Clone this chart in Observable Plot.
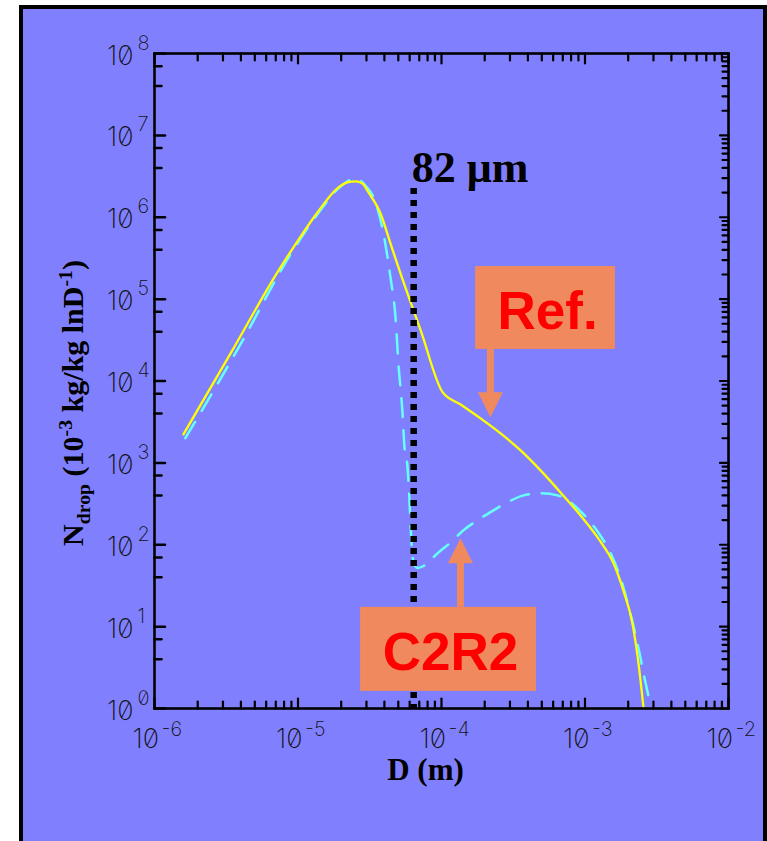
<!DOCTYPE html>
<html><head><meta charset="utf-8">
<script src="https://cdn.jsdelivr.net/npm/d3@7"></script>
<script src="https://cdn.jsdelivr.net/npm/@observablehq/plot@0.6"></script>
<style>
html,body{margin:0;padding:0;background:#fff;overflow:hidden;}
#wrap{position:relative;width:767px;height:841px;overflow:hidden;background:#fff;}
#panel{position:absolute;left:19px;top:5px;width:748px;height:900px;background:#8080FF;border:4px solid #000;box-sizing:border-box;}
#chart{position:absolute;left:0;top:0;}
#chart svg{background:transparent !important;}
svg text{font-feature-settings:"zero" 1;}
#ytitle{position:absolute;left:73px;top:403px;transform:translate(-50%,-50%) rotate(-90deg);white-space:nowrap;font:bold 30px "Liberation Serif","Times New Roman",serif;color:#000;line-height:1;}
#ytitle sub,#ytitle sup{font-size:0.66em;line-height:0;}
</style></head>
<body>
<div id="wrap">
  <div id="panel"></div>
  <div id="chart"></div>
  <div id="ytitle">N<sub>drop</sub> (10<sup>-3</sup> kg/kg lnD<sup>-1</sup>)</div>
</div>
<script>
// ---- data ----
const refD  = [1.59e-6, 3.39e-6, 7.55e-6, 9.3e-6, 1.37e-5, 1.88e-5, 2.21e-5, 2.52e-5, 2.81e-5, 3.10e-5, 3.76e-5, 4.41e-5, 5.18e-5, 7.2e-5, 1.02e-4, 1.355e-4, 1.87e-4, 2.58e-4, 3.56e-4, 4.90e-4, 6.75e-4, 9.31e-4, 1.28e-3, 1.58e-3, 1.85e-3, 2.14e-3, 2.36e-3, 2.56e-3];
const refN  = [2.23e3, 2.17e4, 2.44e5, 4.28e5, 1.15e6, 2.25e6, 2.66e6, 2.74e6, 2.59e6, 2.01e6, 1.11e6, 4.79e5, 2.06e5, 4.04e4, 7.26e3, 5.18e3, 3.49e3, 2.29e3, 1.42e3, 809, 436, 228, 110, 59.3, 27.7, 11.0, 3.56, 1.0];
const c2r2D = [1.64e-6, 3.97e-6, 8.87e-6, 1.43e-5, 1.98e-5, 2.52e-5, 2.95e-5, 3.47e-5, 3.94e-5, 4.41e-5, 4.78e-5, 5.01e-5, 5.35e-5, 5.52e-5, 5.80e-5, 5.98e-5, 6.18e-5, 6.40e-5, 6.8e-5, 7.5e-5, 9.38e-5, 1.16e-4, 1.42e-4, 1.78e-4, 2.30e-4, 2.88e-4, 3.73e-4, 4.90e-4, 6.43e-4, 7.92e-4, 9.77e-4, 1.22e-3, 1.51e-3, 1.77e-3, 2.07e-3, 2.36e-3, 2.60e-3, 2.81e-3];
const c2r2N = [2.0e3, 2.8e4, 3.52e5, 1.21e6, 2.38e6, 2.98e6, 2.44e6, 1.52e6, 6.34e5, 1.84e5, 5.98e4, 1.64e4, 4.02e3, 1.55e3, 881, 348, 104, 60, 52, 55, 78.5, 107, 150, 199, 263, 330, 401, 425, 401, 330, 235, 146, 78.5, 38.9, 14.5, 5.43, 2.34, 1.26];

const xDomain = [1e-6, 1e-2];
const yDomain = [1, 1e8];
const xMajor = [1e-6, 1e-5, 1e-4, 1e-3, 1e-2];
const xExp   = ["-6", "-5", "-4", "-3", "-2"];
const yMajor = [1, 1e1, 1e2, 1e3, 1e4, 1e5, 1e6, 1e7, 1e8];
const yExp   = ["0", "1", "2", "3", "4", "5", "6", "7", "8"];
const minorAll  = [2, 3, 4, 5, 6, 7, 8, 9];
const minorLeft = [4, 7];

// marker line and annotations
const markerD = 6.4e-5, markerTop = 2.25e6, markerLabel = "82 μm";
const noteLabels = ["Ref.", "C2R2"];
const noteX1 = [1.73e-4, 2.73e-5], noteX2 = [1.63e-3, 4.59e-4];
const noteY1 = [2.43e4, 1.62],     noteY2 = [2.5e5, 17.2];
const arrowX = [2.19e-4, 1.355e-4];
const arrowFrom = [2.43e4, 17.2], arrowBase = [7.06e3, 59.3], arrowTip = [3.6e3, 120];

// ---- tables ----
const ref  = refD.map((d, i) => ({D: d, N: refN[i]}));
const c2r2 = c2r2D.map((d, i) => ({D: d, N: c2r2N[i]}));
const xMinor = xMajor.slice(0, -1).flatMap(m => minorAll.map(k => k * m));
const yMinorR = yMajor.slice(0, -1).flatMap(m => minorAll.map(k => k * m));
const yMinorL = yMajor.slice(0, -1).flatMap(m => minorLeft.map(k => k * m));
const notes = noteLabels.map((t, i) => ({label: t, x1: noteX1[i], x2: noteX2[i], y1: noteY1[i], y2: noteY2[i]}));
const arrows = arrowX.map((x, i) => ({x, from: arrowFrom[i], base: arrowBase[i], tip: arrowTip[i]}));

const line = {draw(ctx, l) { ctx.moveTo(0, 0); ctx.lineTo(0, -l); }};
const head = {draw(ctx, l) { ctx.moveTo(0, 0); ctx.lineTo(-12.5, l); ctx.lineTo(12.5, l); ctx.closePath(); }};
const boxColor = "#F08A5E";
const tickFont = "Inter, 'DejaVu Sans', sans-serif";

function ticks(data, pos, rotate, length, w) {
  const o = {length, rotate, anchor: "start", shape: line, stroke: "black", strokeWidth: w};
  if (pos.x !== undefined) { o.x = () => pos.x; o.y = d => d; } else { o.y = () => pos.y; o.x = d => d; }
  return Plot.vector(data, o);
}

const chart = Plot.plot({
  width: 767, height: 841,
  marginLeft: 154, marginRight: 39, marginTop: 53, marginBottom: 133,
  style: {background: "transparent", overflow: "visible"},
  x: {type: "log", domain: xDomain, axis: null},
  y: {type: "log", domain: yDomain, axis: null},
  marks: [
    Plot.line(c2r2, {x: "D", y: "N", stroke: "#66FFFF", strokeWidth: 2.5, strokeDasharray: "19,13", curve: "monotone-x"}),
    Plot.line(ref, {x: "D", y: "N", stroke: "#FFFF00", strokeWidth: 2.3, curve: "monotone-x"}),
    Plot.ruleX([markerD], {x: d => d, y1: () => markerTop, y2: () => yDomain[0], stroke: "black", strokeWidth: 6.5, strokeDasharray: "6,6"}),
    Plot.text([markerLabel], {x: () => markerD, y: () => markerTop, text: d => d, textAnchor: "start", lineAnchor: "bottom", dx: -2, dy: -6, fontSize: 44, fontWeight: "bold", fontFamily: "'Liberation Serif', 'Times New Roman', serif", fill: "black"}),
    Plot.rect(notes, {x1: "x1", x2: "x2", y1: "y1", y2: "y2", fill: boxColor}),
    Plot.text(notes, {x: d => Math.sqrt(d.x1 * d.x2), y: d => Math.sqrt(d.y1 * d.y2), text: "label", fill: "#FF0000", fontSize: 53, fontWeight: "bold", fontFamily: "'Liberation Sans', Arial, sans-serif", lineAnchor: "middle", dx: 2, dy: 4}),
    Plot.ruleX(arrows, {x: "x", y1: "from", y2: "base", stroke: boxColor, strokeWidth: 7}),
    Plot.vector(arrows, {x: "x", y: "tip", rotate: d => d.tip > d.base ? 0 : 180, length: 25, anchor: "start", shape: head, fill: boxColor, stroke: "none"}),
    // axes frame and ticks
    Plot.frame({stroke: "black", strokeWidth: 2.6}),
    ticks(yMajor, {x: xDomain[0]}, 90, 10.5, 2.5),
    ticks(yMinorL, {x: xDomain[0]}, 90, 7, 2.5),
    ticks(yMajor, {x: xDomain[1]}, 270, 8.5, 2.2),
    ticks(yMinorR, {x: xDomain[1]}, 270, 6, 2.2),
    ticks(xMajor, {y: yDomain[0]}, 0, 10, 2.2),
    ticks(xMinor, {y: yDomain[0]}, 0, 7, 2.2),
    ticks(xMajor, {y: yDomain[1]}, 180, 10, 2.2),
    ticks(xMinor, {y: yDomain[1]}, 180, 7, 2.2),
    // tick labels
    Plot.text(xMajor, {x: d => d, y: () => yDomain[0], text: () => "10", textAnchor: "end", lineAnchor: "bottom", dx: 4.5, dy: 39, fontSize: 27, fontWeight: 200, fontFamily: tickFont, fill: "#111"}),
    Plot.text(xMajor, {x: d => d, y: () => yDomain[0], text: (d, i) => xExp[i], textAnchor: "start", lineAnchor: "bottom", dx: 7, dy: 27, fontSize: 20, fontWeight: 200, fontFamily: tickFont, fill: "#111"}),
    Plot.text(yMajor, {x: () => xDomain[0], y: d => d, text: () => "10", textAnchor: "end", lineAnchor: "bottom", dx: -21, dy: 11, fontSize: 27, fontWeight: 200, fontFamily: tickFont, fill: "#111"}),
    Plot.text(yMajor, {x: () => xDomain[0], y: d => d, text: (d, i) => yExp[i], textAnchor: "start", lineAnchor: "bottom", dx: -17, dy: -4, fontSize: 20, fontWeight: 200, fontFamily: tickFont, fill: "#111"}),
    Plot.text(["D (m)"], {frameAnchor: "bottom", text: d => d, lineAnchor: "bottom", dx: -16, dy: 71, fontSize: 31, fontWeight: "bold", fontFamily: "'Liberation Serif', 'Times New Roman', serif", fill: "black"})
  ]
});
document.getElementById("chart").appendChild(chart);
</script>
</body></html>
